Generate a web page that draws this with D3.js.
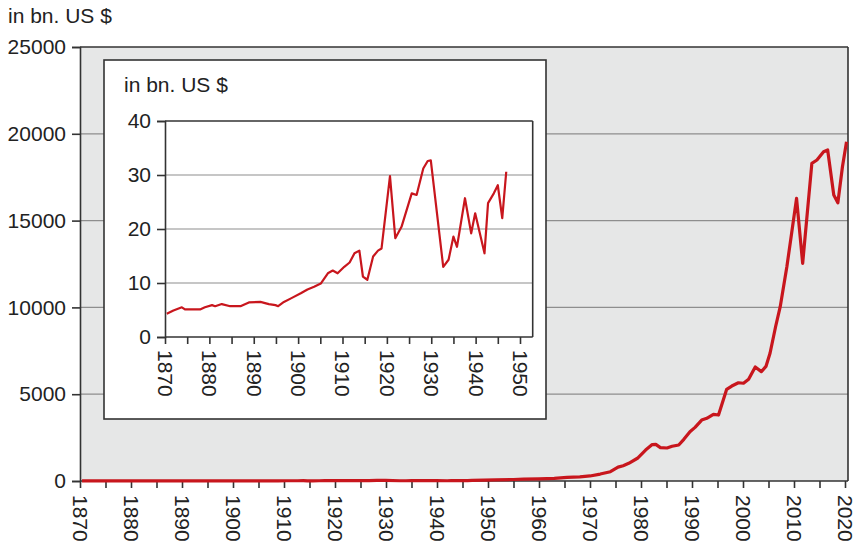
<!DOCTYPE html>
<html><head><meta charset="utf-8">
<script src="https://cdn.jsdelivr.net/npm/d3@7"></script>
<style>body{margin:0;background:#fff}text{font-family:"Liberation Sans",Arial,sans-serif;fill:#222}</style>
</head><body><svg id="c" width="861" height="543"></svg>
<script>
// ---- data (x = position on the chart's year axis, value in bn. US $) ----
const prewarYears = [1870.4,1871.9,1873.8,1874.5,1877.9,1879,1880.6,1881.3,1882.8,1884.7,1887,1888.9,1891.5,1893.4,1894.9,1895.5,1896.8,1898.5,1900.6,1902.1,1903.6,1905.1,1906.7,1907.8,1908.9,1910.4,1911.6,1912.7,1913.8,1914.6,1915.6,1916.9,1918,1918.8,1920.7,1921.9,1923.3,1925.6,1926.7,1928.2,1929.2,1929.9,1932.7,1933.9,1935,1935.8,1937.6,1939,1939.9,1942,1942.8,1944.1,1945,1946,1946.9];
const prewarValues = [4.3,4.9,5.5,5.1,5.1,5.5,5.9,5.7,6.1,5.7,5.7,6.4,6.5,6.1,5.9,5.7,6.5,7.2,8.1,8.8,9.3,9.9,11.8,12.3,11.8,13.0,13.8,15.5,16.0,11.2,10.6,14.9,16.0,16.4,29.8,18.3,20.4,26.6,26.3,31.2,32.6,32.7,13.0,14.3,18.6,16.7,25.7,19.2,22.9,15.5,24.8,26.6,28.1,22.0,30.6];
const postwarYears = [1951.5,1955,1957,1960,1963,1965.5,1968,1970,1972,1974,1975.5,1976.5,1977.6,1979.3,1980.9,1982.2,1982.9,1983.8,1985.1,1986.1,1987.4,1988.4,1989.6,1990.6,1991.9,1992.9,1994.2,1995.2,1996.8,1997.8,1999.1,2000.1,2001.1,2002.4,2003.6,2004.5,2005.3,2006.4,2007.3,2008.6,2009.5,2010.5,2011.7,2013.5,2014.5,2015.8,2016.6,2017.8,2018.6,2019.5,2020.3];
const postwarValues = [60,85,110,125,150,210,240,290,400,535,800,880,1020,1310,1785,2100,2110,1920,1900,2000,2075,2400,2840,3090,3510,3610,3840,3800,5280,5470,5660,5630,5860,6570,6300,6600,7358,8900,10040,12344,14200,16280,12540,18300,18490,18970,19070,16475,16030,18100,19545];
const mainYTicks = [0,5000,10000,15000,20000,25000];
const mainXLabels = [1870,1880,1890,1900,1910,1920,1930,1940,1950,1960,1970,1980,1990,2000,2010,2020];
const insetYTicks = [0,10,20,30,40];
const insetXLabels = [1870,1880,1890,1900,1910,1920,1930,1940,1950];
const unitLabel = "in bn. US $";

const RED = "#c8161d", AX = "#333", GRID = "#8e8e8e", BG = "#e6e7e7";
const svg = d3.select("#c");

// ---- main chart ----
const mx = d3.scaleLinear().domain([1870, 2020]).range([80, 845]);
const my = d3.scaleLinear().domain([0, 25000]).range([481, 47]);
const mRight = 848;
svg.append("rect").attr("x",80).attr("y",my(25000)).attr("width",mRight-80).attr("height",my(0)-my(25000)).attr("fill",BG);
svg.append("g").selectAll("line").data(mainYTicks.filter(d=>d>0&&d<25000)).join("line")
  .attr("x1",80).attr("x2",mRight).attr("y1",d=>my(d)).attr("y2",d=>my(d)).attr("stroke",GRID).attr("stroke-width",1.2);
// frame top and right
svg.append("line").attr("x1",80).attr("x2",mRight).attr("y1",my(25000)).attr("y2",my(25000)).attr("stroke",AX).attr("stroke-width",1.6);
svg.append("line").attr("x1",mRight).attr("x2",mRight).attr("y1",my(25000)).attr("y2",my(0)).attr("stroke",AX).attr("stroke-width",1.6);

const yAxis = svg.append("g").attr("transform","translate(80,0)")
  .call(d3.axisLeft(my).tickValues(mainYTicks).tickSize(8).tickPadding(6).tickFormat(d3.format("d")));
const xAxis = svg.append("g").attr("transform",`translate(0,${my(0)})`)
  .call(d3.axisBottom(mx).tickValues(d3.range(1870,2021,5)).tickSize(7).tickFormat(d=>mainXLabels.includes(d)?d:""));
[yAxis,xAxis].forEach(g=>{g.select(".domain").attr("stroke",AX).attr("stroke-width",1.6);
  g.selectAll(".tick line").attr("stroke",AX).attr("stroke-width",1.6);
  g.selectAll("text").style("font-size","21px").attr("fill","#222");});
xAxis.select(".domain").attr("d",`M80,0H${mRight}`);
xAxis.selectAll("text").attr("transform","rotate(90)").attr("text-anchor","start").attr("dy","0.36em").attr("x",14).attr("y",0);

const mainData = prewarYears.map((y,i)=>[y,prewarValues[i]]).concat(postwarYears.map((y,i)=>[y,postwarValues[i]]));
svg.append("path").datum(mainData).attr("fill","none").attr("stroke",RED).attr("stroke-width",3.2).attr("stroke-linejoin","round")
  .attr("d",d3.line().x(d=>mx(d[0])).y(d=>my(d[1])));
svg.append("text").attr("x",8).attr("y",23).style("font-size","21px").text(unitLabel);

// ---- inset ----
svg.append("rect").attr("x",104).attr("y",60).attr("width",442).attr("height",359).attr("fill","#fff").attr("stroke",AX).attr("stroke-width",1.6);
const ix = d3.scaleLinear().domain([1870, 1950]).range([165, 520]);
const iy = d3.scaleLinear().domain([0, 40]).range([337, 121]);
const iRight = 532.7;
svg.append("g").selectAll("line").data(insetYTicks.filter(d=>d>0&&d<40)).join("line")
  .attr("x1",165).attr("x2",iRight).attr("y1",d=>iy(d)).attr("y2",d=>iy(d)).attr("stroke",GRID).attr("stroke-width",1.2);
svg.append("line").attr("x1",165).attr("x2",iRight).attr("y1",iy(40)).attr("y2",iy(40)).attr("stroke",AX).attr("stroke-width",1.6);
svg.append("line").attr("x1",iRight).attr("x2",iRight).attr("y1",iy(40)).attr("y2",iy(0)).attr("stroke",AX).attr("stroke-width",1.6);
const iyAxis = svg.append("g").attr("transform","translate(165,0)")
  .call(d3.axisLeft(iy).tickValues(insetYTicks).tickSize(8).tickPadding(6));
const ixAxis = svg.append("g").attr("transform",`translate(0,${iy(0)})`)
  .call(d3.axisBottom(ix).tickValues(d3.range(1870,1951,5)).tickSize(7).tickFormat(d=>insetXLabels.includes(d)?d:""));
[iyAxis,ixAxis].forEach(g=>{g.select(".domain").attr("stroke",AX).attr("stroke-width",1.6);
  g.selectAll(".tick line").attr("stroke",AX).attr("stroke-width",1.6);
  g.selectAll("text").style("font-size","21px").attr("fill","#222");});
ixAxis.select(".domain").attr("d",`M165,0H${iRight}`);
ixAxis.selectAll("text").attr("transform","rotate(90)").attr("text-anchor","start").attr("dy","0.36em").attr("x",13).attr("y",0);
const insetData = prewarYears.map((y,i)=>[y,prewarValues[i]]);
svg.append("path").datum(insetData).attr("fill","none").attr("stroke",RED).attr("stroke-width",2.2).attr("stroke-linejoin","round")
  .attr("d",d3.line().x(d=>ix(d[0])).y(d=>iy(d[1])));
svg.append("text").attr("x",124).attr("y",92).style("font-size","21px").text(unitLabel);
</script></body></html>
